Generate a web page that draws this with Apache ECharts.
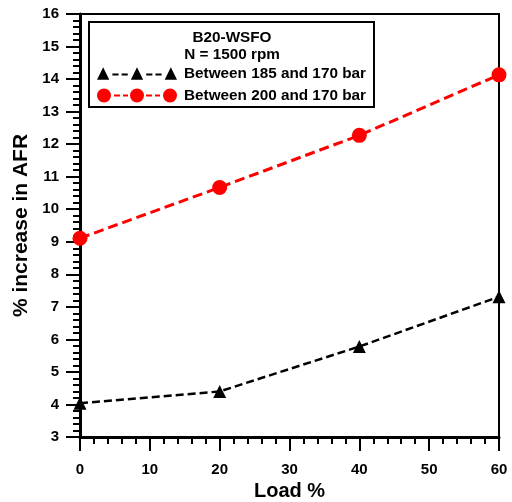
<!DOCTYPE html>
<html>
<head>
<meta charset="utf-8">
<script src="https://cdn.jsdelivr.net/npm/echarts@6/dist/echarts.min.js"></script>
<style>html,body{margin:0;padding:0;background:#fff}#c{width:512px;height:502px}</style>
</head>
<body>
<div id="c"></div>
<script>
var loads = [0, 20, 40, 60];
var between185 = [4.04, 4.4, 5.78, 7.31];
var between200 = [9.11, 10.67, 12.27, 14.13];
var seriesNames = ['Between 185 and 170 bar', 'Between 200 and 170 bar'];
var legendTitle = ['B20-WSFO', 'N = 1500 rpm'];
var xName = 'Load %';
var yName = '% increase in AFR';

function pairs(xs, ys){ return xs.map(function(x,i){ return [x, ys[i]]; }); }

var triIcon = 'path://M1 13L7 1L13 13Z M34 13L40 1L46 13Z M67 13L73 1L79 13Z M16 7h6v2h-6Z M25 7h6v2h-6Z M49 7h6v2h-6Z M58 7h6v2h-6Z';
var cirIcon = 'path://M0 7a7 7 0 1 0 14 0a7 7 0 1 0 -14 0Z M33 7a7 7 0 1 0 14 0a7 7 0 1 0 -14 0Z M66 7a7 7 0 1 0 14 0a7 7 0 1 0 -14 0Z M17 6h6v2h-6Z M26 6h5v2h-5Z M49 6h6v2h-6Z M58 6h5v2h-5Z';

var font = 'Liberation Sans, Arial, sans-serif';
var chart = echarts.init(document.getElementById('c'), null, {renderer:'canvas'});
chart.setOption({
  animation: false,
  backgroundColor: '#fff',
  grid: {left: 80, right: 13, top: 14, bottom: 65, containLabel: false, outerBoundsMode: 'none', show: true, borderColor: '#000', borderWidth: 2},
  graphic: [
    {type:'rect', z: 1, shape:{x:89, y:22, width:285, height:85}, style:{fill:'#fff', stroke:'#000', lineWidth:2}},
    {type:'text', z: 2, style:{x:232, y:38, text: legendTitle[0], textAlign:'center', textVerticalAlign:'middle', font:'bold 15.3px ' + font, fill:'#000'}},
    {type:'text', z: 2, style:{x:232, y:55, text: legendTitle[1], textAlign:'center', textVerticalAlign:'middle', font:'bold 15.3px ' + font, fill:'#000'}}
  ],
  legend: {
    orient: 'vertical', left: 92, top: 61, z: 5,
    itemWidth: 80, itemHeight: 14, itemGap: 7,
    textStyle: {fontFamily: font, fontWeight: 'bold', fontSize: 15.3, color: '#000', padding: [0, 0, 0, 2]},
    data: [
      {name: seriesNames[0], icon: triIcon, itemStyle:{color:'#000'}},
      {name: seriesNames[1], icon: cirIcon, itemStyle:{color:'#ff0000'}}
    ]
  },
  xAxis: {
    type: 'value', min: 0, max: 60, interval: 10,
    name: xName, nameLocation: 'middle', nameGap: 44,
    nameTextStyle: {fontFamily: font, fontWeight: 'bold', fontSize: 20, color: '#000'},
    axisLine: {show: true, lineStyle: {color: '#000', width: 3}},
    axisTick: {show: true, inside: false, length: 14, lineStyle: {color: '#000', width: 2}},
    minorTick: {show: true, splitNumber: 5, length: 7, lineStyle: {color: '#000', width: 2}},
    axisLabel: {margin: 25, fontFamily: font, fontWeight: 'bold', fontSize: 15, color: '#000'},
    splitLine: {show: false}
  },
  yAxis: {
    type: 'value', min: 3, max: 16, interval: 1,
    name: yName, nameLocation: 'middle', nameGap: 47, nameRotate: 90,
    nameTextStyle: {fontFamily: font, fontWeight: 'bold', fontSize: 21, color: '#000'},
    axisLine: {show: true, lineStyle: {color: '#000', width: 3}},
    axisTick: {show: true, inside: false, length: 14, lineStyle: {color: '#000', width: 2}},
    minorTick: {show: true, splitNumber: 5, length: 7, lineStyle: {color: '#000', width: 2}},
    axisLabel: {margin: 21, fontFamily: font, fontWeight: 'bold', fontSize: 15, color: '#000'},
    splitLine: {show: false}
  },
  series: [
    {name: seriesNames[0], type: 'line', data: pairs(loads, between185),
     symbol: 'triangle', symbolSize: 13, itemStyle: {color: '#000'},
     lineStyle: {color: '#000', width: 2.5, type: [8, 4]}, z: 3},
    {name: seriesNames[1], type: 'line', data: pairs(loads, between200),
     symbol: 'circle', symbolSize: 15, itemStyle: {color: '#ff0000'},
     lineStyle: {color: '#ff0000', width: 3, type: [10, 5]}, z: 3}
  ]
});
</script>
</body>
</html>
